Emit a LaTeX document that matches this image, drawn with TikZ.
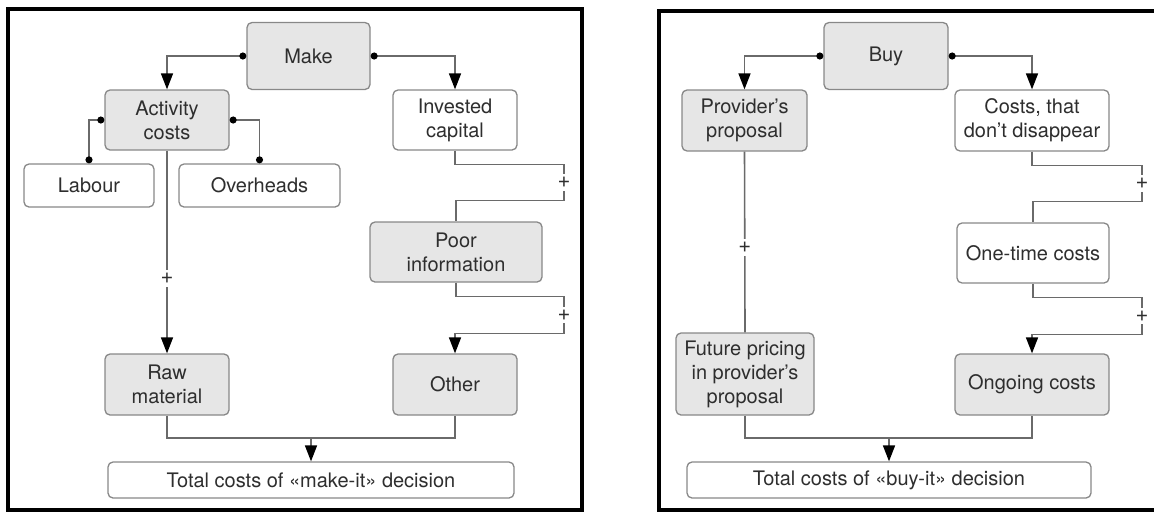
\documentclass[tikz,border=0pt]{standalone}
\usepackage{fontspec}
\setmainfont{TeX Gyre Heros}
\usetikzlibrary{arrows.meta}
\definecolor{boxgray}{HTML}{E6E6E6}
\definecolor{linegray}{HTML}{6A6A6A}
\definecolor{rimgray}{HTML}{888888}
\definecolor{txtgray}{HTML}{2E2E2E}

\begin{document}
\begin{tikzpicture}[x=0.5pt,y=-0.5pt,
    box/.style={draw=rimgray, line width=0.65pt, rounded corners=2.5pt, fill=white,
      align=center, inner sep=0pt, text=txtgray, font=\fontsize{10}{12}\selectfont},
    gbox/.style={box, fill=boxgray},
    conn/.style={draw=linegray, line width=0.8pt},
    arr/.style={conn, -{Triangle[width=6pt,length=8pt,black]}},
    dotarr/.style={conn, {Circle[length=3.5pt,black]}-{Triangle[width=6pt,length=8pt,black]}},
    dotdot/.style={conn, {Circle[length=3.5pt,black]}-{Circle[length=3.5pt,black]}},
    plus/.style={fill=white, inner xsep=0.5pt, inner ysep=1.5pt, text=txtgray, font=\fontsize{11}{11}\selectfont},
    frame/.style={draw=black, line width=2.2pt}]

    \useasboundingbox (0,0) rectangle (1154,515);
    \draw [frame] (8,9) rectangle (582,510);
    \draw [frame] (659,11) rectangle (1162,510);

    % make side
    \node [gbox, minimum width=61.5pt, minimum height=33.5pt] (make) at (308.5,56) {Make};
    \node [gbox, minimum width=62pt, minimum height=30pt] (act) at (167,120) {Activity\\costs};
    \node [box, minimum width=62pt, minimum height=30pt] (inv) at (455,120) {Invested\\capital};
    \node [box, minimum width=65pt, minimum height=21.5pt] (lab) at (89,185.5) {Labour};
    \node [box, minimum width=80.5pt, minimum height=21.5pt] (ovh) at (259.5,185.5) {Overheads};
    \node [gbox, minimum width=86pt, minimum height=30pt] (poor) at (456,252) {Poor\\information};
    \node [gbox, minimum width=62pt, minimum height=30.5pt] (raw) at (167,384.5) {Raw\\material};
    \node [gbox, minimum width=62pt, minimum height=30.5pt] (oth) at (455,384.5) {Other};
    \node [box, minimum width=203pt, minimum height=18pt] (totm) at (311,480) {Total costs of «make-it» decision};
    \coordinate (joinm) at (311,438);

    \draw [dotarr] (make.west) -| (act.north);
    \draw [dotarr] (make.east) -| (inv.north);
    \draw [dotdot] (act.west) -| (lab.north);
    \draw [dotdot] (act.east) -| (ovh.north);
    \draw [arr] (act.south) -- node [plus, pos=0.63] {+} (raw.north);
    \draw [conn] (inv.south) |- ++(109,14) -- node [plus] {+} ++(0,36) -| (poor.north);
    \draw [arr] (poor.south) |- ++(108,14) -- node [plus] {+} ++(0,37) -| (oth.north);
    \draw [conn] (raw.south) |- (joinm) -| (oth.south);
    \draw [arr] (joinm) -- (totm.north);

    % buy side
    \node [gbox, minimum width=62pt, minimum height=33.5pt] (buy) at (886,56) {Buy};
    \node [gbox, minimum width=62.5pt, minimum height=30.5pt] (prov) at (744.5,120.5) {Provider’s\\proposal};
    \node [box, minimum width=77pt, minimum height=30.5pt] (keep) at (1032,120.5) {Costs, that\\don’t disappear};
    \node [box, minimum width=76pt, minimum height=30pt] (once) at (1033,253) {One-time costs};
    \node [gbox, minimum width=69pt, minimum height=41pt] (fut) at (745,374) {Future pricing\\in provider’s\\proposal};
    \node [gbox, minimum width=77pt, minimum height=30.5pt] (ongo) at (1032,384.5) {Ongoing costs};
    \node [box, minimum width=202pt, minimum height=18pt] (totb) at (889,480) {Total costs of «buy-it» decision};
    \coordinate (joinb) at (889,438);

    \draw [dotarr] (buy.west) -| (prov.north);
    \draw [dotarr] (buy.east) -| (keep.north);
    \draw [conn] (prov.south) -- node [plus, pos=0.53] {+} (fut.north);
    \draw [conn] (keep.south) |- ++(110,14) -- node [plus] {+} ++(0,36) -| (once.north);
    \draw [arr] (once.south) |- ++(109,14) -- node [plus] {+} ++(0,37) -| (ongo.north);
    \draw [conn] (fut.south) |- (joinb) -| (ongo.south);
    \draw [arr] (joinb) -- (totb.north);

\end{tikzpicture}
\end{document}
